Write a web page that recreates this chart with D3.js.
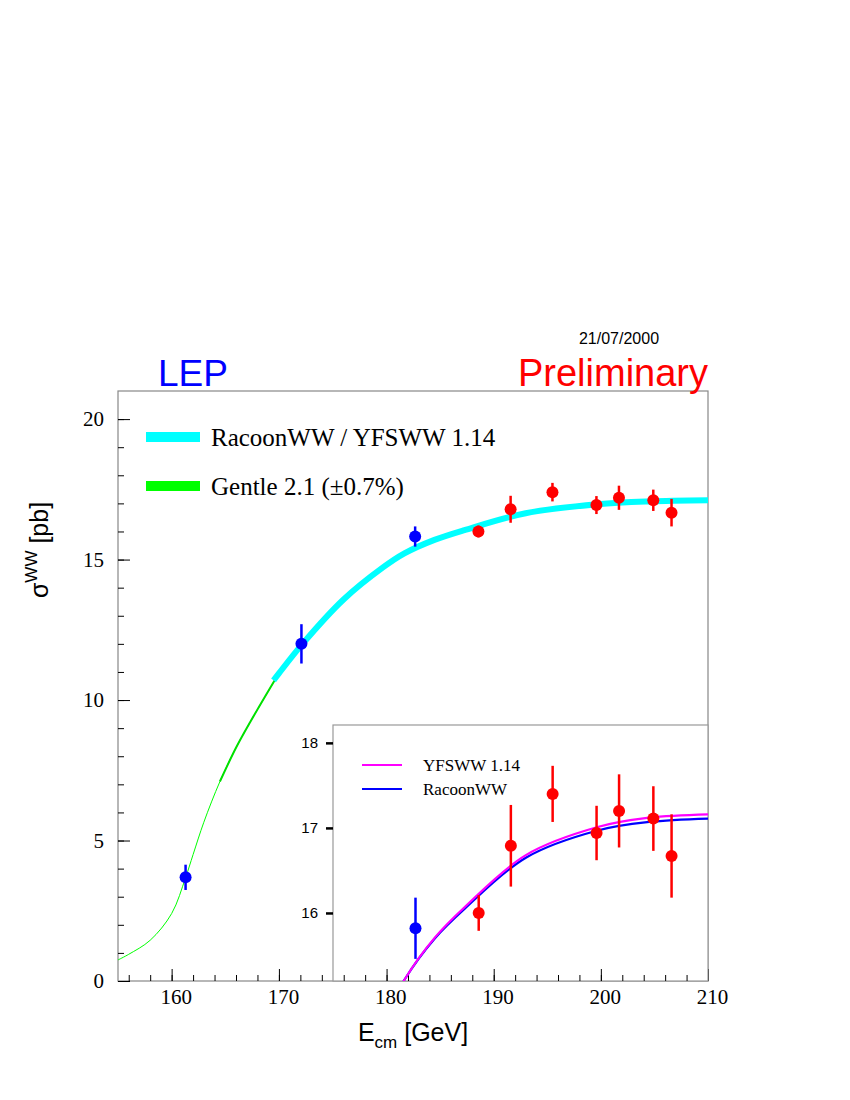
<!DOCTYPE html>
<html><head><meta charset="utf-8">
<script src="https://cdn.jsdelivr.net/npm/d3@7"></script>
<style>body{margin:0;background:#fff}</style>
</head><body>
<svg id="chart" width="850" height="1100"></svg>
<script>
// measured cross sections
const lowE = [161.3, 172.1, 182.7];
const lowSig = [3.69, 12.0, 15.82];
const lowErr = [0.45, 0.7, 0.36];
const highE = [188.6, 191.6, 195.5, 199.6, 201.7, 204.9, 206.6];
const highSig = [16.0, 16.79, 17.40, 16.94, 17.20, 17.11, 16.67];
const highErr = [0.21, 0.48, 0.33, 0.32, 0.43, 0.38, 0.49];

// theory curves
const gentleE = [155, 156, 158, 160, 161.3, 162, 163, 164.5, 166, 167.3, 170];
const gentleSig = [0.75, 0.95, 1.45, 2.4, 3.68, 4.5, 5.65, 7.1, 8.3, 9.2, 10.95];
const racoonE = [169.5, 170, 172.2, 176, 179.7, 181.7, 184.5, 187.3, 193, 199.7, 204.5, 210];
const racoonSig = [10.7, 10.95, 12.0, 13.57, 14.72, 15.22, 15.7, 16.05, 16.65, 16.97, 17.07, 17.11];
const yfsSig = [10.7, 10.95, 12.0, 13.57, 14.72, 15.22, 15.71, 16.07, 16.68, 17.01, 17.12, 17.16];

const mainXTicks = [160, 170, 180, 190, 200, 210];
const mainYTicks = [0, 5, 10, 15, 20];
const insetYTicks = [16, 17, 18];

const svg = d3.select('#chart');
const serif = 'Liberation Serif, Times New Roman, serif';
const sans = 'Liberation Sans, Arial, sans-serif';

const x = d3.scaleLinear().domain([155, 210]).range([118, 708]);
const y = d3.scaleLinear().domain([0, 21]).range([981, 391]);

// main frame
svg.append('rect').attr('x', 118).attr('y', 391).attr('width', 590).attr('height', 590)
  .attr('fill', 'none').attr('stroke', '#888').attr('stroke-width', 1.2);

// axes with inside ticks
const xMinor = d3.range(156, 210, 2);
svg.append('g').attr('transform', 'translate(0,981)')
  .call(d3.axisTop(x).tickValues(xMinor).tickSize(6).tickFormat(''))
  .call(g => g.select('.domain').remove());
svg.append('g').attr('transform', 'translate(0,981)')
  .call(d3.axisTop(x).tickValues(mainXTicks).tickSize(12).tickFormat(''))
  .call(g => g.select('.domain').remove());
svg.append('g').attr('transform', 'translate(4,981)')
  .call(d3.axisBottom(x).tickValues(mainXTicks).tickSize(0).tickPadding(8))
  .call(g => g.select('.domain').remove())
  .selectAll('text').attr('font-family', serif).attr('font-size', 21).attr('fill', '#000');

svg.append('g').attr('transform', 'translate(118,0)')
  .call(d3.axisRight(y).tickValues(d3.range(0, 21, 1)).tickSize(6).tickFormat(''))
  .call(g => g.select('.domain').remove());
svg.append('g').attr('transform', 'translate(118,0)')
  .call(d3.axisRight(y).tickValues(mainYTicks).tickSize(12).tickFormat(''))
  .call(g => g.select('.domain').remove());
svg.append('g').attr('transform', 'translate(118,0)')
  .call(d3.axisLeft(y).tickValues(mainYTicks).tickSize(0).tickPadding(14))
  .call(g => g.select('.domain').remove())
  .selectAll('text').attr('font-family', serif).attr('font-size', 21).attr('fill', '#000');

const line = d3.line().x(d => x(d[0])).y(d => y(d[1])).curve(d3.curveCatmullRom);

svg.append('path').datum(d3.zip(gentleE, gentleSig)).attr('d', line)
  .attr('fill', 'none').attr('stroke', '#00ff00').attr('stroke-width', 1);
svg.append('path').datum(d3.zip(gentleE.slice(7), gentleSig.slice(7))).attr('d', line)
  .attr('fill', 'none').attr('stroke', '#00e000').attr('stroke-width', 2);
svg.append('path').datum(d3.zip(racoonE, racoonSig)).attr('d', line)
  .attr('fill', 'none').attr('stroke', '#00ffff').attr('stroke-width', 6);

function points(g, xs, ys, es, sx, sy, col) {
  xs.forEach((e, i) => {
    g.append('line').attr('x1', sx(e)).attr('x2', sx(e))
      .attr('y1', sy(ys[i] - es[i])).attr('y2', sy(ys[i] + es[i]))
      .attr('stroke', col).attr('stroke-width', 2.5);
    g.append('circle').attr('cx', sx(e)).attr('cy', sy(ys[i])).attr('r', 6).attr('fill', col);
  });
}
const mainPts = svg.append('g');
points(mainPts, lowE, lowSig, lowErr, x, y, '#0000ff');
points(mainPts, highE, highSig, highErr, x, y, '#ff0000');

// main legend
svg.append('line').attr('x1', 146).attr('x2', 200).attr('y1', 437).attr('y2', 437)
  .attr('stroke', '#00ffff').attr('stroke-width', 10);
svg.append('text').attr('x', 211).attr('y', 446).text('RacoonWW / YFSWW 1.14')
  .attr('font-family', serif).attr('font-size', 25);
svg.append('line').attr('x1', 146).attr('x2', 200).attr('y1', 486).attr('y2', 486)
  .attr('stroke', '#00ff00').attr('stroke-width', 10);
svg.append('text').attr('x', 211).attr('y', 495).text('Gentle 2.1 (±0.7%)')
  .attr('font-family', serif).attr('font-size', 25);

// inset
const xi = d3.scaleLinear().domain([175, 210]).range([333, 708]);
const yi = d3.scaleLinear().domain([15.2, 18.21]).range([981, 725]);
svg.append('rect').attr('x', 333).attr('y', 725).attr('width', 375).attr('height', 256)
  .attr('fill', '#fff').attr('stroke', '#999').attr('stroke-width', 1.2);
svg.append('g').attr('transform', 'translate(0,981)')
  .call(d3.axisTop(xi).tickValues(d3.range(176, 210, 2)).tickSize(6).tickFormat(''))
  .call(g => g.select('.domain').remove());
svg.append('g').attr('transform', 'translate(0,981)')
  .call(d3.axisTop(xi).tickValues([180, 190, 200]).tickSize(12).tickFormat(''))
  .call(g => g.select('.domain').remove());
svg.append('g').attr('transform', 'translate(333,0)')
  .call(d3.axisLeft(yi).tickValues(insetYTicks).tickSize(7).tickPadding(8).tickFormat(d3.format('d')))
  .call(g => g.select('.domain').remove())
  .call(g => g.selectAll('line').attr('stroke-width', 2.5))
  .selectAll('text').attr('font-family', sans).attr('font-size', 15).attr('fill', '#000');

const inset = svg.append('g');
inset.append('clipPath').attr('id', 'ic').append('rect')
  .attr('x', 333).attr('y', 725).attr('width', 375).attr('height', 256);
const linei = d3.line().x(d => xi(d[0])).y(d => yi(d[1])).curve(d3.curveCatmullRom);
const curves = inset.append('g').attr('clip-path', 'url(#ic)');
curves.append('path').datum(d3.zip(racoonE, racoonSig)).attr('d', linei)
  .attr('fill', 'none').attr('stroke', '#0000ff').attr('stroke-width', 2.2);
curves.append('path').datum(d3.zip(racoonE, yfsSig)).attr('d', linei)
  .attr('fill', 'none').attr('stroke', '#ff00ff').attr('stroke-width', 2.2);
points(inset, lowE.slice(2), lowSig.slice(2), lowErr.slice(2), xi, yi, '#0000ff');
points(inset, highE, highSig, highErr, xi, yi, '#ff0000');

inset.append('line').attr('x1', 362).attr('x2', 402).attr('y1', 765).attr('y2', 765)
  .attr('stroke', '#ff00ff').attr('stroke-width', 2);
inset.append('text').attr('x', 423).attr('y', 771).text('YFSWW 1.14')
  .attr('font-family', serif).attr('font-size', 17);
inset.append('line').attr('x1', 362).attr('x2', 402).attr('y1', 789).attr('y2', 789)
  .attr('stroke', '#0000ff').attr('stroke-width', 2);
inset.append('text').attr('x', 423).attr('y', 795).text('RacoonWW')
  .attr('font-family', serif).attr('font-size', 17);

// titles and labels
svg.append('text').attr('x', 158).attr('y', 386).text('LEP')
  .attr('font-family', sans).attr('font-size', 37).attr('fill', '#0000ff');
svg.append('text').attr('x', 708).attr('y', 386).attr('text-anchor', 'end').text('Preliminary')
  .attr('font-family', sans).attr('font-size', 38).attr('fill', '#ff0000');
svg.append('text').attr('x', 619).attr('y', 344).attr('text-anchor', 'middle').text('21/07/2000')
  .attr('font-family', sans).attr('font-size', 16);

const xl = svg.append('text').attr('x', 413).attr('y', 1041).attr('text-anchor', 'middle')
  .attr('font-family', sans).attr('font-size', 25);
xl.append('tspan').text('E');
xl.append('tspan').text('cm').attr('font-size', 17).attr('dy', 7);
xl.append('tspan').text(' [GeV]').attr('dy', -7);

const yl = svg.append('text').attr('transform', 'translate(48,550) rotate(-90)')
  .attr('text-anchor', 'middle').attr('font-family', sans).attr('font-size', 25);
yl.append('tspan').text('σ');
yl.append('tspan').text('WW').attr('font-size', 17).attr('dy', -11);
yl.append('tspan').text(' [pb]').attr('dy', 11);
</script>
</body></html>
